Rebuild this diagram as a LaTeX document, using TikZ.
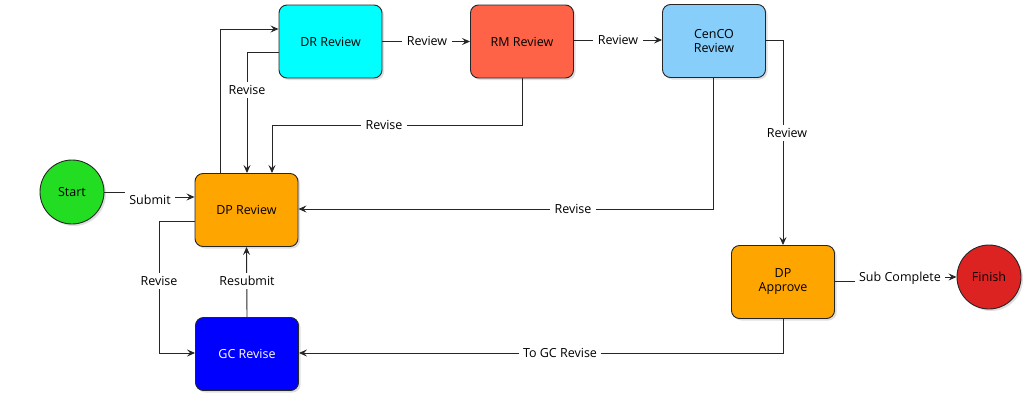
\documentclass[tikz,border=0pt]{standalone}
\usepackage{fontspec}
\setmainfont{Open Sans}
\usetikzlibrary{arrows.meta,shadows}
\definecolor{cstart}{HTML}{22DD22}
\definecolor{cdr}{HTML}{00FFFF}
\definecolor{crm}{HTML}{FF6347}
\definecolor{ccen}{HTML}{87CEFA}
\definecolor{cdp}{HTML}{FFA500}
\definecolor{cgc}{HTML}{0000FF}
\definecolor{cfin}{HTML}{DD2222}
\begin{document}
\begin{tikzpicture}[x=1pt,y=-1pt,
  txt/.style={font=\fontsize{12.5}{14}\selectfont},
  box/.style={txt,draw=black!85,line width=0.9pt,rounded corners=8pt,
    minimum width=103pt,minimum height=73pt,align=center,
    drop shadow={shadow xshift=2pt,shadow yshift=-2pt,opacity=0.25}},
  term/.style={txt,circle,draw=black!85,line width=0.9pt,minimum size=64pt,
    drop shadow={shadow xshift=2pt,shadow yshift=-2pt,opacity=0.25}},
  conn/.style={draw=black!85,line width=0.9pt},
  arr/.style={conn,-{Stealth[length=8pt,width=7pt,inset=3pt]}},
  lbl/.style={txt,fill=white,inner xsep=4.5pt,inner ysep=3pt}]
\useasboundingbox (0,0) rectangle (1029,402);
% nodes
\node[term,fill=cstart] (start) at (72,192) {Start};
\node[box,fill=cdp] (dp) at (246.5,210) {DP Review};
\node[box,fill=cdr] (dr) at (330.5,41.5) {DR Review};
\node[box,fill=crm] (rm) at (522,41.5) {RM Review};
\node[box,fill=ccen] (cen) at (714,41) {CenCO\\Review};
\node[box,fill=cdp] (dpa) at (783,282) {DP\\Approve};
\node[box,fill=cgc,text=white] (gc) at (247,354) {GC Revise};
\node[term,fill=cfin] (fin) at (989,277) {Finish};
% connectors
\draw[arr] (start.east) -- (150,192) -- (150,197) -- (dp.west |- 0,197);
\draw[arr] (dp.north -| 220,0) |- (dr.west |- 0,29);
\draw[arr] (dr.west |- 0,52) -| (dp.north -| 247,0);
\draw[arr] (rm.south) |- (272,125) -- (dp.north -| 272,0);
\draw[arr] (dr.east) -- (rm.west);
\draw[arr] (rm.east |- 0,40) -- (cen.west |- 0,40);
\draw[arr] (cen.south -| 713,0) |- (dp.east |- 0,209);
\draw[arr] (cen.east |- 0,40) -| (dpa.north);
\draw[arr] (dpa.east |- 0,281) -- (900,281) -- (900,277) -- (fin.west);
\draw[arr] (dpa.south) |- (gc.east |- 0,353);
\draw[arr] (dp.west |- 0,221) -- (159,221) |- (gc.west |- 0,353);
\draw[arr] (gc.north) -- (dp.south);
% labels
\node[lbl] at (150,200) {Submit};
\node[lbl] at (247,90) {Revise};
\node[lbl] at (384,125) {Revise};
\node[lbl] at (427,41) {Review};
\node[lbl] at (618,40) {Review};
\node[lbl] at (573,209) {Revise};
\node[lbl] at (787,133) {Review};
\node[lbl] at (900,278) {Sub Complete};
\node[lbl] at (560,353) {To GC Revise};
\node[lbl] at (159,281) {Revise};
\node[lbl] at (247,281) {Resubmit};
\end{tikzpicture}
\end{document}
